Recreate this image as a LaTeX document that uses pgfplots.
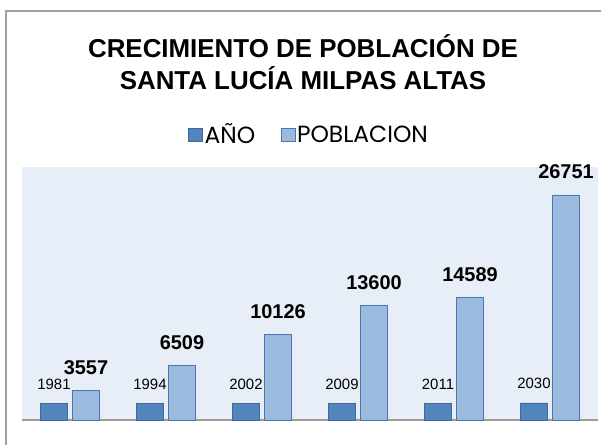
\documentclass[border=0pt]{standalone}
\usepackage{pgfplots}
\pgfplotsset{compat=1.18}
\usepackage{fontspec}
\setmainfont{Liberation Sans}
\newfontfamily\legfont{Poppins}
\definecolor{bgc}{HTML}{E8EEF7}
\definecolor{framec}{HTML}{A0A0A0}
\definecolor{basec}{HTML}{9C9C9C}
\definecolor{darkfill}{HTML}{5185BC}
\definecolor{darkedge}{HTML}{3E6A9A}
\definecolor{lightfill}{HTML}{9ABAE0}
\definecolor{lightedge}{HTML}{4A78AC}
\begin{document}
\begin{tikzpicture}
\useasboundingbox (0bp,0bp) rectangle (601bp,445bp);
\fill[bgc] (22bp,25bp) rectangle (598bp,278bp);
\draw[framec, line width=1.5bp] (6bp,-2bp) -- (6bp,434bp) -- (603bp,434bp);
\node[align=center, font=\bfseries\fontsize{26}{31.5}\selectfont] at (303bp,383bp)
  {CRECIMIENTO DE POBLACIÓN DE\\SANTA LUCÍA MILPAS ALTAS};
\begin{axis}[
  at={(22bp,25bp)}, anchor=south west,
  scale only axis, width=576bp, height=253bp,
  xmin=0.5, xmax=6.5, ymin=0, ymax=30080,
  axis x line=bottom, axis y line=none,
  x axis line style={draw=basec, line width=1.6bp, -},
  xtick=\empty, ytick=\empty,
  ybar, bar width=27bp,
  clip=false,
  /pgf/number format/1000 sep={},
  /pgf/number format/assume math mode=true,
  legend columns=2,
  legend cell align=left,
  legend image code/.code={\draw[#1] (0bp,-6.5bp) rectangle (14bp,6.5bp);},
  legend style={draw=none, fill=none,
    at={(axis description cs:0.498,1.128)}, anchor=center,
    font=\legfont\fontsize{23.5}{25}\selectfont,
    nodes={inner sep=1.5bp},
    /tikz/every even column/.append style={column sep=24bp}},
]
\addplot[fill=darkfill, draw=darkedge, line width=0.8bp, bar shift=-16bp,
  nodes near coords,
  every node near coord/.append style={anchor=base, yshift=14bp, black,
    font=\fontsize{15}{16}\selectfont}]
  coordinates {(1,1981) (2,1994) (3,2002) (4,2009) (5,2011) (6,2030)};
\addplot[fill=lightfill, draw=lightedge, line width=0.8bp, bar shift=16bp,
  nodes near coords,
  every node near coord/.append style={anchor=base, yshift=16bp, black,
    font=\bfseries\fontsize{20}{22}\selectfont}]
  coordinates {(1,3557) (2,6509) (3,10126) (4,13600) (5,14589) (6,26751)};
\legend{{\legfont\fontsize{23.5}{25}\selectfont AÑO}, {\legfont\fontsize{23.5}{25}\selectfont POBLACION}}
\end{axis}
\end{tikzpicture}
\end{document}
